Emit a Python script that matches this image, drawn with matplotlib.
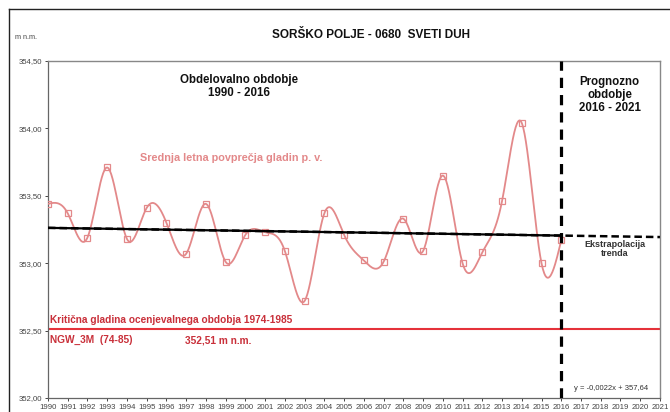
import numpy as np
import matplotlib
matplotlib.use("Agg")
import matplotlib.pyplot as plt
from matplotlib.lines import Line2D
from matplotlib.ticker import FuncFormatter

plt.rcParams['font.family'] = ['Liberation Sans', 'DejaVu Sans']

# data
years = np.arange(1990, 2017)
levels = [353.44, 353.37, 353.19, 353.71, 353.18, 353.41, 353.30, 353.07, 353.44,
          353.01, 353.21, 353.23, 353.09, 352.72, 353.37, 353.21, 353.02, 353.01,
          353.33, 353.09, 353.65, 353.00, 353.08, 353.46, 354.04, 353.00, 353.17]
trend_slope = -0.0022
trend_icpt = 357.64
ngw_level = 352.51
split_year = 2016
end_year = 2021
tick_years = np.arange(1990, 2022)
y_ticks = [352.0, 352.5, 353.0, 353.5, 354.0, 354.5]

salmon = '#e3898a'
crit_red = '#c9303a'


def smooth_curve(x, y, n=30):
    # natural cubic spline through the points
    x = np.asarray(x, float)
    y = np.asarray(y, float)
    m = len(x)
    h = np.diff(x)
    A = np.zeros((m, m))
    b = np.zeros(m)
    A[0, 0] = 1
    A[-1, -1] = 1
    for i in range(1, m - 1):
        A[i, i - 1] = h[i - 1]
        A[i, i] = 2 * (h[i - 1] + h[i])
        A[i, i + 1] = h[i]
        b[i] = 6 * ((y[i + 1] - y[i]) / h[i] - (y[i] - y[i - 1]) / h[i - 1])
    M = np.linalg.solve(A, b)
    xs, ys = [], []
    for i in range(m - 1):
        t = np.linspace(x[i], x[i + 1], n)
        a = x[i + 1] - t
        c = t - x[i]
        s = (M[i] * a ** 3 + M[i + 1] * c ** 3) / (6 * h[i]) \
            + (y[i] / h[i] - M[i] * h[i] / 6) * a + (y[i + 1] / h[i] - M[i + 1] * h[i] / 6) * c
        xs.extend(t)
        ys.extend(s)
    return np.array(xs), np.array(ys)


fig = plt.figure(figsize=(6.7, 4.12), dpi=100)
ax = fig.add_axes([0.0716, 0.034, 0.9134, 0.818])

# outer frame (top and left)
fig.add_artist(Line2D([9 / 670, 1], [1 - 9 / 412, 1 - 9 / 412], color='#222222', lw=1.0))
fig.add_artist(Line2D([9 / 670, 9 / 670], [0, 1 - 9 / 412], color='#222222', lw=1.0))

sx, sy = smooth_curve(years, levels)
ax.plot(sx, sy, color=salmon, lw=1.3, zorder=3)
ax.plot(years, levels, ls='none', marker='s', ms=4.3, mfc='none', mec=salmon, mew=0.9, zorder=4)

# trend line, solid within data, dashed extrapolation
tx = np.array([1990, split_year])
ax.plot(tx, trend_slope * tx + trend_icpt, color='black', lw=1.6, zorder=5)
tx2 = np.array([1990, end_year])
ax.plot(tx2, trend_slope * tx2 + trend_icpt, color='black', lw=1.8, ls=(0, (3, 1.6)), zorder=6)

# critical level
ax.axhline(ngw_level, color='#e5323a', lw=1.5, zorder=2)

# split between observed and forecast period
ax.axvline(split_year, color='black', lw=2.3, ls=(0, (3.2, 2.2)), zorder=7)

ax.set_xlim(1990, end_year)
ax.set_ylim(352.0, 354.5)
ax.set_xticks(tick_years)
ax.set_xticklabels([str(y) for y in tick_years])
ax.set_yticks(y_ticks)
ax.yaxis.set_major_formatter(FuncFormatter(lambda v, p: f"{v:.2f}".replace('.', ',')))
ax.tick_params(axis='both', labelsize=5.6, colors='#444444', length=2.5, width=0.7, pad=2)
ax.tick_params(axis='x', pad=1.5)
for side in ['top', 'right']:
    ax.spines[side].set_color('#888888')
    ax.spines[side].set_linewidth(1.0)
for side in ['left', 'bottom']:
    ax.spines[side].set_color('#666666')
    ax.spines[side].set_linewidth(0.9)

fig.text(0.553, 0.915, 'SORŠKO POLJE - 0680  SVETI DUH', ha='center', va='center',
         fontsize=8.5, fontweight='bold', color='#111111')
fig.text(0.022, 0.91, 'm n.m.', ha='left', va='center', fontsize=5.2, color='#444444')

ax.text(1999.7, 354.31, 'Obdelovalno obdobje\n1990 - 2016', ha='center', va='center',
        fontsize=8.3, fontweight='bold', color='#111111', linespacing=1.1)
ax.text(2018.45, 354.25, 'Prognozno\nobdobje\n2016 - 2021', ha='center', va='center',
        fontsize=8.3, fontweight='bold', color='#111111', linespacing=1.1)
ax.text(1994.65, 353.78, 'Srednja letna povprečja gladin p. v.', ha='left', va='center',
        fontsize=7.8, fontweight='bold', color=salmon)
ax.text(2018.7, 353.105, 'Ekstrapolacija\ntrenda', ha='center', va='center',
        fontsize=6.5, fontweight='bold', color='#333333', linespacing=1.05)
ax.text(2018.5, 352.07, 'y = -0,0022x + 357,64', ha='center', va='center',
        fontsize=5.5, color='#333333')

ax.text(1990.1, 352.58, 'Kritična gladina ocenjevalnega obdobja 1974-1985', ha='left', va='center',
        fontsize=7.3, fontweight='bold', color=crit_red)
ax.text(1990.1, 352.43, 'NGW_3M  (74-85)', ha='left', va='center',
        fontsize=7.3, fontweight='bold', color=crit_red)
ax.text(1996.95, 352.43, '352,51 m n.m.', ha='left', va='center',
        fontsize=7.3, fontweight='bold', color=crit_red)

fig.savefig('out.png', dpi=100, facecolor='white')
